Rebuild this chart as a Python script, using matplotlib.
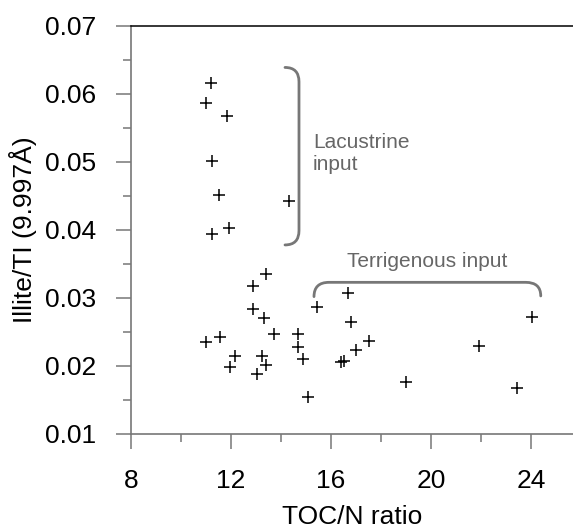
"""Illite/TI vs TOC/N scatter with lacustrine / terrigenous brackets."""

import matplotlib

matplotlib.use("Agg")
import matplotlib.pyplot as plt
from matplotlib.patches import PathPatch
from matplotlib.path import Path
from matplotlib.ticker import MultipleLocator

plt.rcParams["font.family"] = ["Liberation Sans", "DejaVu Sans"]

# data
toc_n = [
    11.19, 11.01, 11.83, 11.23, 11.52, 14.33, 11.24, 11.93,
    13.39, 12.89, 12.87, 13.33, 13.71, 10.99, 11.56, 12.16,
    11.96, 13.24, 13.39, 13.03, 14.68, 14.68, 14.89, 15.09,
    15.44, 16.39, 16.52, 16.69, 16.79, 17.53, 16.99, 19.00,
    21.92, 24.03, 23.45,
]
illite_ti = [
    0.0616, 0.0586, 0.0568, 0.0502, 0.0451, 0.0442, 0.0394, 0.0403,
    0.0335, 0.0318, 0.0284, 0.0271, 0.0247, 0.0235, 0.0243, 0.0214,
    0.0198, 0.0214, 0.0201, 0.0188, 0.0247, 0.0228, 0.0211, 0.0155,
    0.0286, 0.0206, 0.0207, 0.0307, 0.0264, 0.0237, 0.0224, 0.0177,
    0.0229, 0.0272, 0.0168,
]
x_ticks = [8, 12, 16, 20, 24]
y_ticks = [0.01, 0.02, 0.03, 0.04, 0.05, 0.06, 0.07]

GRAY = "#777777"
NOTE = "#666666"

fig = plt.figure(figsize=(5.73, 5.31), dpi=100)
ax = fig.add_axes([0.2286, 0.1827, 0.7714, 0.7684])

ax.plot(toc_n, illite_ti, linestyle="none", marker="+", color="black",
        markersize=8.5, markeredgewidth=1.1, clip_on=False)

ax.set_xlim(8, 25.68)
ax.set_ylim(0.01, 0.07)
ax.set_xticks(x_ticks)
ax.set_yticks(y_ticks)
ax.set_yticklabels([f"{v:.2f}" for v in y_ticks])
ax.xaxis.set_minor_locator(MultipleLocator(2))
ax.yaxis.set_minor_locator(MultipleLocator(0.005))

ax.tick_params(which="major", direction="out", length=10.5, width=1.1,
               color=GRAY, labelsize=19)
ax.tick_params(which="minor", direction="out", length=5.5, width=1.1, color=GRAY)
ax.tick_params(axis="y", which="major", pad=14.5)
ax.tick_params(axis="x", which="major", pad=15)

for side in ("left", "bottom"):
    ax.spines[side].set_color(GRAY)
    ax.spines[side].set_linewidth(1.2)
ax.spines["right"].set_visible(False)
ax.spines["top"].set_color("black")
ax.spines["top"].set_linewidth(1.1)

ax.set_xlabel("TOC/N ratio", fontsize=19, labelpad=8)
ax.set_ylabel("Illite/TI (9.997Å)", fontsize=19, labelpad=6)

# lacustrine bracket
lac = Path(
    [(14.16, 0.0639), (14.72, 0.0639), (14.72, 0.0618),
     (14.72, 0.0399), (14.72, 0.0378), (14.16, 0.0378)],
    [Path.MOVETO, Path.CURVE3, Path.CURVE3,
     Path.LINETO, Path.CURVE3, Path.CURVE3],
)
ax.add_patch(PathPatch(lac, fill=False, edgecolor=GRAY, linewidth=2.0,
                       capstyle="round"))
ax.text(15.28, 0.0512, "Lacustrine\ninput", color=NOTE, fontsize=15,
        ha="left", va="center", linespacing=1.2)

# terrigenous bracket
ter = Path(
    [(15.32, 0.0302), (15.32, 0.0323), (15.92, 0.0323),
     (23.79, 0.0323), (24.39, 0.0323), (24.39, 0.0303)],
    [Path.MOVETO, Path.CURVE3, Path.CURVE3,
     Path.LINETO, Path.CURVE3, Path.CURVE3],
)
ax.add_patch(PathPatch(ter, fill=False, edgecolor=GRAY, linewidth=2.0,
                       capstyle="round"))
ax.text(19.83, 0.0353, "Terrigenous input", color=NOTE, fontsize=15,
        ha="center", va="center")

fig.savefig("out.png", dpi=100)
